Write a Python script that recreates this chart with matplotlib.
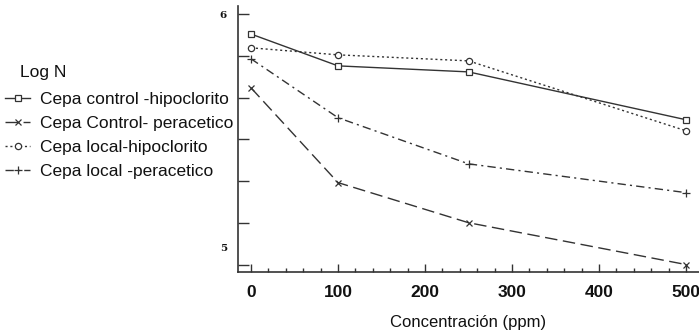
import matplotlib.pyplot as plt
import matplotlib.transforms as mtransforms
import numpy as np

# Data
conc = [0, 100, 250, 500]
control_hipo = [5.920, 5.793, 5.769, 5.578]
control_perac = [5.705, 5.327, 5.167, 5.000]
local_hipo = [5.865, 5.837, 5.813, 5.534]
local_perac = [5.821, 5.586, 5.402, 5.287]
labels = ['Cepa control -hipoclorito', 'Cepa Control- peracetico',
          'Cepa local-hipoclorito', 'Cepa local -peracetico']

plt.rcParams['font.family'] = ['Liberation Sans', 'DejaVu Sans']

fig = plt.figure(figsize=(6.99, 3.33), dpi=100)
ax = fig.add_axes([0.3405, 0.183, 0.6595, 0.799])

c = '#333333'
ax.plot(conc, control_hipo, color=c, lw=1.0, ls='-', marker='s', ms=4.5,
        mfc='white', mec=c, mew=0.9, label=labels[0])
ax.plot(conc, control_perac, color=c, lw=1.0, ls=(0, (9, 4)), marker='x', ms=5,
        mec=c, mew=0.9, label=labels[1])
ax.plot(conc, local_hipo, color=c, lw=1.0, ls=(0, (1.5, 2)), marker='o', ms=4.5,
        mfc='white', mec=c, mew=0.9, label=labels[2])
ax.plot(conc, local_perac, color=c, lw=1.0, ls=(0, (6, 3, 1.5, 3)), marker='+', ms=6,
        mec=c, mew=0.9, label=labels[3])

ax.set_xlim(-15, 515)
ax.set_ylim(4.97, 6.032)

ax.set_xticks(np.arange(0, 501, 100))
ax.set_xticks(np.arange(0, 501, 20), minor=True)
ax.set_yticks(np.linspace(5, 6, 7))
ax.set_yticklabels(['5', '', '', '', '', '', '6'])

ax.tick_params(axis='x', which='major', direction='in', length=6, width=1,
               labelsize=12.5, pad=9, colors=c, labelcolor='#111111')
ax.tick_params(axis='x', which='minor', direction='in', length=3, width=1, colors=c)
ax.tick_params(axis='y', direction='in', length=8, width=1, labelsize=7.5, pad=8,
               colors=c, labelcolor='#111111')
for t in ax.get_xticklabels():
    t.set_fontweight('bold')
for t in ax.get_yticklabels():
    t.set_family(['DejaVu Serif'])
    t.set_fontweight('bold')
# bottom "5" label sits a bit above its tick
lab5 = ax.get_yticklabels()[0]
lab5.set_transform(lab5.get_transform() + mtransforms.ScaledTranslation(0, 17 / 100, fig.dpi_scale_trans))

for s in ['top', 'right']:
    ax.spines[s].set_visible(False)
for s in ['left', 'bottom']:
    ax.spines[s].set_color(c)
    ax.spines[s].set_linewidth(1.2)

ax.set_xlabel('Concentración (ppm)', fontsize=12, labelpad=11, color='#111111')

fig.text(20 / 699, 1 - 72 / 333, 'Log N', fontsize=12.5, color='#111111',
         ha='left', va='center')
leg = fig.legend(loc='upper left', bbox_to_anchor=(5 / 699, 1 - 92 / 333), frameon=False,
                 fontsize=12.5, handlelength=1.45, handletextpad=0.55,
                 labelspacing=0.5, borderaxespad=0, borderpad=0.0)
for t in leg.get_texts():
    t.set_color('#111111')

plt.savefig('out.png', dpi=100)
